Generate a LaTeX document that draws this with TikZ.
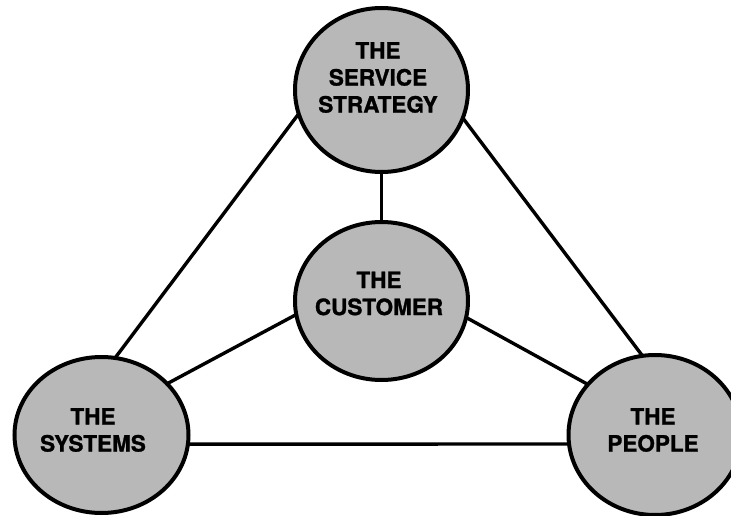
\documentclass[tikz,border=0pt]{standalone}
\usepackage{fontspec}
\setmainfont{TeX Gyre Heros}[BoldFeatures={FakeBold=1.2}]
\usetikzlibrary{shapes.geometric}
\begin{document}
\begin{tikzpicture}[x=1pt,y=-1pt,
  hub/.style={ellipse, draw=black, line width=4pt, fill=black!28,
    minimum width=173pt, minimum height=162pt, inner sep=0pt, outer sep=0pt},
  link/.style={line width=3.4pt},
  caption/.style={font=\fontsize{22.5}{27}\selectfont\bfseries,
    align=center, inner sep=0pt}]
\useasboundingbox (0,0) rectangle (731,516);

% the four circles
\node[hub, minimum height=164pt] (strategy) at (381.5,90) {};
\node[hub, minimum height=158pt] (customer) at (381.5,301) {};
\node[hub, minimum width=174pt, minimum height=156pt] (systems) at (101.5,435) {};
\node[hub, minimum height=160pt] (people) at (655,435) {};

% connectors
\draw[link] (strategy.270) -- (customer.90);
\draw[link] (strategy.196.5) -- (systems.80);
\draw[link] (strategy.341) -- (people.99.5);
\draw[link] (customer.189) -- (systems.38);
\draw[link] (customer.349) -- (people.143);
\draw[link] (systems.-6.5) -- (people.186.5);

% captions
\node[caption] (strategy-text) at (378,77.5) {THE\\SERVICE\\STRATEGY};
\node[caption] (customer-text) at (379,293.5) {THE\\CUSTOMER};
\node[caption] (systems-text) at (93,430) {THE\\SYSTEMS};
\node[caption] (people-text) at (653,430) {THE\\PEOPLE};
\end{tikzpicture}
\end{document}
